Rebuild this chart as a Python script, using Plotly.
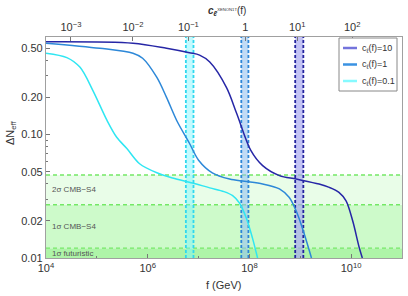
import math
import plotly.graph_objects as go

# ---------------- data ----------------
# curves: log10(f/GeV) and Delta N_eff
navy_log10_f = [4.0, 5.71, 6.37, 6.82, 7.02, 7.22, 7.55, 7.75, 8.03, 8.26, 8.59, 8.92, 9.37, 9.57, 9.76, 9.9, 10.03, 10.16, 10.22]
navy_dneff = [0.565, 0.55, 0.50, 0.46, 0.44, 0.387, 0.24, 0.148, 0.074, 0.056, 0.0465, 0.0436, 0.0397, 0.0373, 0.034, 0.029, 0.020, 0.0121, 0.01]

blue_log10_f = [4.0, 5.06, 5.71, 5.90, 6.18, 6.37, 6.57, 6.82, 7.0, 7.27, 7.61, 7.9, 8.26, 8.59, 8.78, 8.92, 9.04, 9.18, 9.22]
blue_dneff = [0.55, 0.50, 0.456, 0.415, 0.29, 0.20, 0.13, 0.085, 0.062, 0.049, 0.0436, 0.0418, 0.0398, 0.0363, 0.031, 0.024, 0.0175, 0.0114, 0.01]

cyan_log10_f = [4.0, 4.41, 4.67, 4.92, 5.20, 5.39, 5.59, 5.84, 6.18, 6.49, 6.88, 7.22, 7.50, 7.67, 7.80, 7.94, 8.06, 8.16]
cyan_dneff = [0.456, 0.42, 0.35, 0.228, 0.13, 0.095, 0.077, 0.058, 0.049, 0.0445, 0.0405, 0.037, 0.0345, 0.032, 0.028, 0.021, 0.0145, 0.01]

series_names = ["c<sub>ℓ</sub>(f)=10", "c<sub>ℓ</sub>(f)=1", "c<sub>ℓ</sub>(f)=0.1"]
series_colors = ["#2626a6", "#2d88d8", "#2fe6f2"]
legend_colors = ["#7474dc", "#3a92e2", "#86faff"]

# CMB sensitivity bands (Delta N_eff edges)
band_bottom = 0.01
band_futuristic = 0.012
band_cmbs4_1sigma = 0.027
band_cmbs4_2sigma = 0.047
band_labels = ["2σ CMB−S4", "1σ CMB−S4", "1σ futuristic"]

# XENON1T vertical bands: log10(f) lower/upper
xenon_bands = [(6.75, 6.90), (7.84, 7.98), (8.90, 9.06)]
xenon_fill = ["rgba(120,245,255,0.45)", "rgba(150,195,240,0.6)", "rgba(170,170,240,0.7)"]
xenon_edge = ["#2fd8ee", "#2d86d6", "#23239e"]

# top axis: c_l values and their positions in log10(f)
top_tick_text = ["10<sup>−3</sup>", "10<sup>−2</sup>", "10<sup>−1</sup>", "1", "10<sup>1</sup>", "10<sup>2</sup>"]
top_tick_log10_f = [4.49, 5.71, 6.80, 7.92, 8.94, 10.02]

y_ticks = [0.01, 0.02, 0.05, 0.1, 0.2, 0.5]
y_tick_text = ["0.01", "0.02", "0.05", "0.10", "0.20", "0.50"]
x_ticks_log = [4, 6, 8, 10]

# ---------------- figure ----------------
FONT = "Liberation Sans, Arial, sans-serif"
TXT = "#333333"
fig = go.Figure()

for lf, v, name, col in zip([navy_log10_f, blue_log10_f, cyan_log10_f],
                            [navy_dneff, blue_dneff, cyan_dneff],
                            series_names, series_colors):
    fig.add_trace(go.Scatter(x=[10 ** e for e in lf], y=v, mode="lines", name=name, showlegend=False,
                             line=dict(color=col, width=1.5, shape="spline", smoothing=0.9)))

# invisible trace to activate the top axis
fig.add_trace(go.Scatter(x=[1e4, 1e11], y=[0.01, 0.01], xaxis="x2", mode="lines",
                         line=dict(width=0), showlegend=False, hoverinfo="skip"))

shapes = []
# green horizontal bands
for y0, y1, col in [(band_bottom, band_futuristic, "#aef4a8"),
                    (band_futuristic, band_cmbs4_1sigma, "#cdfaca"),
                    (band_cmbs4_1sigma, band_cmbs4_2sigma, "#e9fde8")]:
    shapes.append(dict(type="rect", xref="paper", yref="y", x0=0, x1=1, y0=y0, y1=y1,
                       fillcolor=col, line=dict(width=0), layer="below"))
for yv in [band_futuristic, band_cmbs4_1sigma, band_cmbs4_2sigma]:
    shapes.append(dict(type="line", xref="paper", yref="y", x0=0, x1=1, y0=yv, y1=yv,
                       line=dict(color="#74e866", width=1.3, dash="4px,3px"), layer="below"))
# xenon vertical bands
for (a, b), fc, ec in zip(xenon_bands, xenon_fill, xenon_edge):
    shapes.append(dict(type="rect", xref="x", yref="paper", x0=10 ** a, x1=10 ** b, y0=0, y1=1,
                       fillcolor=fc, line=dict(width=0), layer="below"))
    for xv in (a, b):
        shapes.append(dict(type="line", xref="x", yref="paper", x0=10 ** xv, x1=10 ** xv, y0=0, y1=1,
                           line=dict(color=ec, width=1.8, dash="3px,2px"), layer="below"))

annotations = []
for lab, yv in zip(band_labels, [(band_cmbs4_1sigma * band_cmbs4_2sigma) ** 0.5,
                                 (band_futuristic * band_cmbs4_1sigma) ** 0.5,
                                 (band_bottom * band_futuristic) ** 0.5]):
    annotations.append(dict(text=lab, xref="paper", yref="y", x=0.012, y=math.log10(yv),
                            xanchor="left", yanchor="middle", showarrow=False,
                            font=dict(family=FONT, size=8, color="#555555")))

# manual legend (box, line samples, labels)
PW, PH = 356.0, 221.0  # plot area size in px
def px_x(p):
    return (p - 46) / PW
def px_y(p):
    return (258 - p) / PH

shapes.append(dict(type="rect", xref="paper", yref="paper", x0=px_x(339), x1=px_x(397),
                   y0=px_y(91), y1=px_y(38), fillcolor="white", line=dict(color="#888888", width=1)))
for i, (name, lc) in enumerate(zip(series_names, legend_colors)):
    ry = 48 + 16.5 * i
    shapes.append(dict(type="line", xref="paper", yref="paper", x0=px_x(343), x1=px_x(357),
                       y0=px_y(ry), y1=px_y(ry), line=dict(color=lc, width=2.5)))
    annotations.append(dict(text=name, xref="paper", yref="paper", x=px_x(360), y=px_y(ry),
                            xanchor="left", yanchor="middle", showarrow=False,
                            font=dict(family=FONT, size=9, color=TXT)))

annotations.append(dict(text="ΔN<sub>eff</sub>", xref="paper", yref="paper", x=px_x(11), y=px_y(133),
                        textangle=-90, showarrow=False, xanchor="center", yanchor="middle",
                        font=dict(family=FONT, size=11, color=TXT)))
annotations.append(dict(text="f (GeV)", xref="paper", yref="paper", x=px_x(223), y=px_y(285),
                        showarrow=False, xanchor="center", yanchor="middle",
                        font=dict(family=FONT, size=11, color=TXT)))
annotations.append(dict(text="<b><i>c<sub>ℓ</sub></i></b><span style='font-size:6px'><sup>XENON1T</sup></span>(f)",
                        xref="paper", yref="paper", x=px_x(227), y=px_y(11), showarrow=False,
                        xanchor="center", yanchor="middle",
                        font=dict(family=FONT, size=10, color=TXT)))

axis_common = dict(showline=True, linecolor="#a0a0a0", linewidth=1.3, showgrid=False, zeroline=False,
                   ticks="inside", ticklen=4, tickcolor="#777777",
                   tickfont=dict(family=FONT, size=11, color=TXT))

fig.update_layout(
    width=408, height=296,
    margin=dict(l=46, r=6, t=37, b=38),
    paper_bgcolor="white", plot_bgcolor="white",
    showlegend=False,
    xaxis=dict(type="log", range=[4, 11], tickvals=[10 ** e for e in x_ticks_log],
               ticktext=["10<sup>%d</sup>" % e for e in x_ticks_log],
               minor=dict(ticks="inside", ticklen=2, tickcolor="#777777",
                          tickvals=[10 ** e for e in [5, 7, 9, 11]]),
               **axis_common),
    xaxis2=dict(type="log", range=[4, 11], overlaying="x", side="top",
                tickvals=[10 ** e for e in top_tick_log10_f], ticktext=top_tick_text,
                **axis_common),
    yaxis=dict(type="log", range=[-2, -0.21], tickvals=y_ticks, ticktext=y_tick_text, mirror=True,
               minor=dict(ticks="inside", ticklen=2, tickcolor="#777777",
                          tickvals=[0.03, 0.04, 0.06, 0.07, 0.08, 0.09, 0.3, 0.4]),
               **axis_common),
    shapes=shapes, annotations=annotations,
)

fig.write_html("out.html", post_script="document.body.style.margin='0';",
               config={"displayModeBar": False})
